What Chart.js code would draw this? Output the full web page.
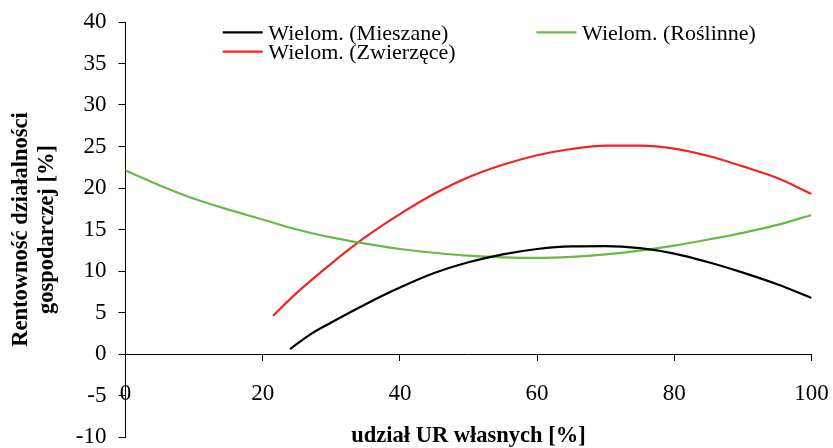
<!DOCTYPE html>
<html>
<head>
<meta charset="utf-8">
<script src="https://cdn.jsdelivr.net/npm/chart.js@4/dist/chart.umd.min.js"></script>
<style>
body{margin:0;background:#fff;}
#wrap{width:833px;height:448px;position:relative;}
</style>
</head>
<body>
<div id="wrap"><canvas id="c"></canvas></div>
<script>
// dane (linie trendu wielomianowego)
var udzial = [0,5,10,15,20,25,30,35,40,45,50,55,60,65,70,75,80,85,90,95,100];
var roslinne = [22.1,20.3,18.7,17.4,16.2,15.0,14.05,13.3,12.65,12.2,11.85,11.65,11.57,11.7,12.0,12.45,13.05,13.8,14.6,15.55,16.75];

var zwierzeceX = [21.5,25,30,35,40,45,50,55,60,65,70,75,80,85,90,95,100];
var zwierzece = [4.6,7.4,10.9,14.1,16.85,19.3,21.3,22.8,23.95,24.7,25.1,25.1,24.75,23.85,22.6,21.2,19.3];

var mieszaneX = [24,27,30,35,40,45,50,55,60,65,70,75,80,85,90,95,100];
var mieszane = [0.6,2.4,3.8,6.0,8.0,9.75,11.05,12.0,12.65,12.97,13.0,12.75,12.1,11.05,9.8,8.4,6.75];

var xTicks = [0,20,40,60,80,100];
var yTicks = [-10,-5,0,5,10,15,20,25,30,35,40];

function pts(xs, ys){
    var out=[];
    for(var i=0;i<xs.length;i++){ out.push({x:xs[i], y:ys[i]}); }
    return out;
}

Chart.defaults.font.family = "'Liberation Serif', 'Times New Roman', serif";
Chart.defaults.color = '#000';

// legenda rysowana recznie (uklad jak w Excelu: 2 kolumny)
var legendSlots = [[222.7,32.3],[536.4,32.3],[222.7,51.7]];
var myLegend = {
    id:'myLegend',
    afterDraw:function(chart){
        var ctx=chart.ctx;
        ctx.save();
        ctx.font = "22px 'Liberation Serif', 'Times New Roman', serif";
        ctx.textBaseline='middle';
        ctx.textAlign='left';
        chart.data.datasets.forEach(function(ds,i){
            var p=legendSlots[i];
            ctx.strokeStyle=ds.borderColor;
            ctx.lineWidth=2.2;
            ctx.beginPath();
            ctx.moveTo(p[0],p[1]);
            ctx.lineTo(p[0]+40,p[1]);
            ctx.stroke();
            ctx.fillStyle='#000';
            ctx.fillText(ds.label,p[0]+45.6,p[1]+2);
        });
        ctx.restore();
    }
};

var chart = new Chart(document.getElementById('c'), {
    type:'line',
    data:{
        datasets:[
            {label:'Wielom. (Mieszane)', data:pts(mieszaneX,mieszane), borderColor:'#000000'},
            {label:'Wielom. (Roślinne)', data:pts(udzial,roslinne), borderColor:'#66bb44'},
            {label:'Wielom. (Zwierzęce)', data:pts(zwierzeceX,zwierzece), borderColor:'#f52222'}
        ]
    },
    options:{
        responsive:true,
        maintainAspectRatio:false,
        animation:false,
        elements:{
            line:{borderWidth:2.2, cubicInterpolationMode:'monotone', fill:false},
            point:{radius:0, hoverRadius:0}
        },
        layout:{padding:{left:0, top:22, right:21.5, bottom:11}},
        plugins:{legend:{display:false}, tooltip:{enabled:false}},
        scales:{
            x:{
                type:'linear',
                position:{y:0},
                min:0, max:100,
                afterBuildTicks:function(s){ s.ticks = xTicks.map(function(v){return {value:v};}); },
                afterFit:function(s){ s.paddingLeft=0; s.paddingRight=0; },
                grid:{drawOnChartArea:false, tickLength:6, color:'#000'},
                border:{color:'#000', width:1},
                ticks:{font:{size:23}, padding:20, maxRotation:0},
                title:{display:true, text:'udział UR własnych [%]', font:{size:22.5, weight:'bold'}, padding:{top:-4.5, bottom:0}}
            },
            y:{
                type:'linear',
                min:-10, max:40,
                afterBuildTicks:function(s){ s.ticks = yTicks.map(function(v){return {value:v};}); },
                afterFit:function(s){ s.width = 125.5; s.paddingTop=0; s.paddingBottom=0; },
                grid:{drawOnChartArea:false, tickLength:7, color:'#000'},
                border:{color:'#000', width:1},
                ticks:{font:{size:23}, padding:12},
                title:{display:true, text:['Rentowność działalności','gospodarczej [%]'], font:{size:22.5, weight:'bold', lineHeight:1.15}, padding:{top:8, bottom:0}}
            }
        }
    },
    plugins:[myLegend]
});
</script>
</body>
</html>
